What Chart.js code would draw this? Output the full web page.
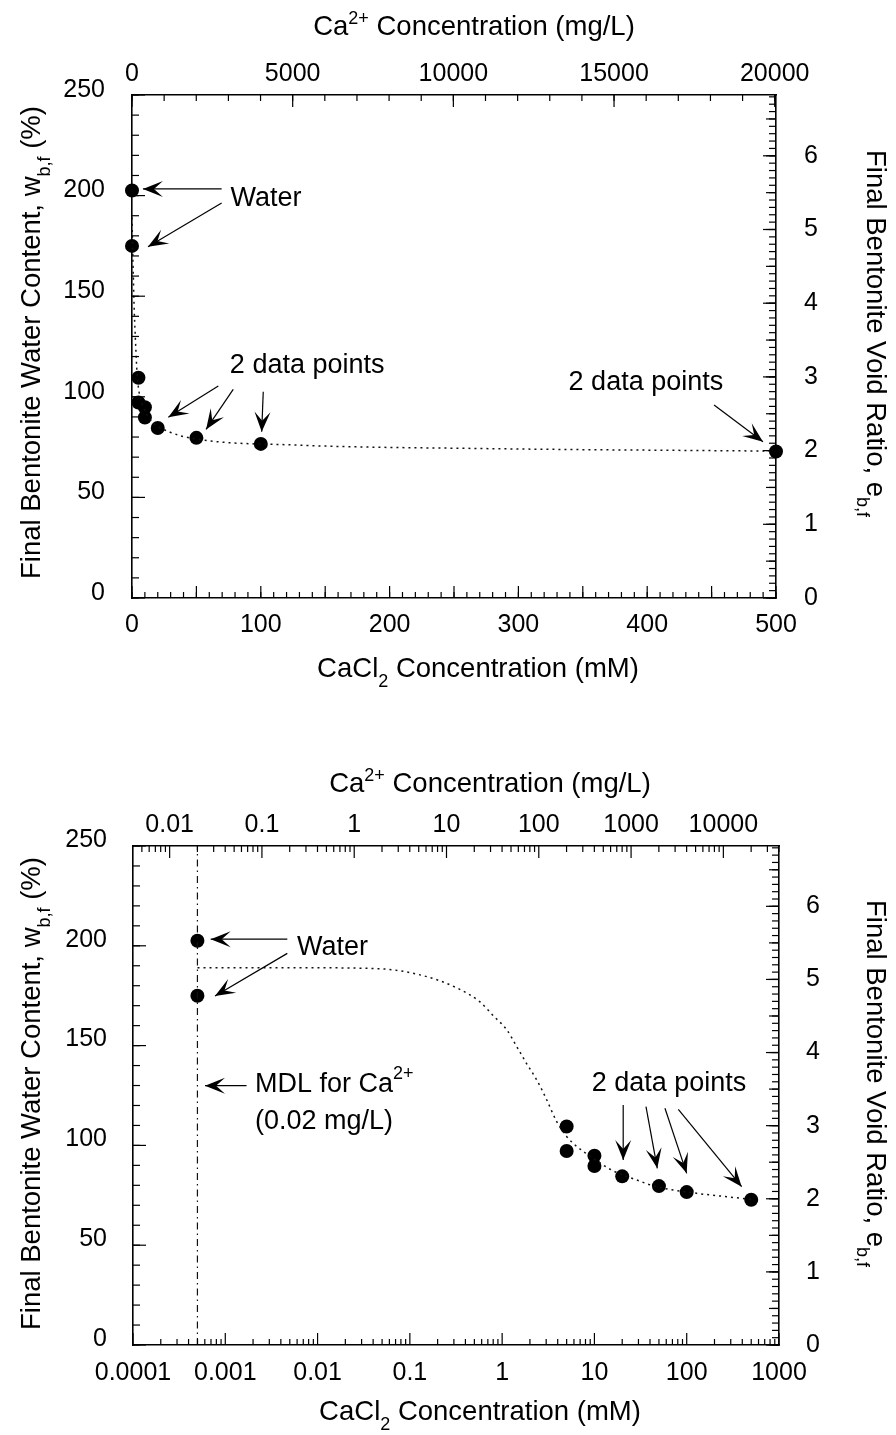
<!DOCTYPE html>
<html>
<head>
<meta charset="utf-8">
<script src="https://cdn.jsdelivr.net/npm/chart.js@4.4.0/dist/chart.umd.min.js"></script>
<style>
body { margin: 0; background: #fff; }
canvas { display: block; }
</style>
</head>
<body>
<canvas id="linChart" width="896" height="717"></canvas>
<canvas id="logChart" width="896" height="718"></canvas>
<script>
// measured points: final water content (%) vs CaCl2 concentration (mM)
let water_w = [202.5, 175];
let salt_conc = [5, 5, 10, 10, 20, 50, 100, 500];
let salt_w = [109.5, 97.2, 94.8, 89.7, 84.5, 79.6, 76.6, 72.8];

// fitted curve
let fit_conc = [0.0005, 0.0065, 0.047, 0.14, 0.32, 0.57, 0.8, 1.12, 1.44, 1.84, 2.36, 3.03, 3.89, 5, 5.9, 9.7, 15.3, 28.6, 47, 128, 270, 500];
let fit_w = [189, 189, 188.5, 185, 179, 172, 165, 158, 149.5, 141, 133, 123, 112, 104.5, 101, 93.5, 87.7, 82.7, 79.3, 76, 74.3, 73];

let ca_mg_per_mmol = 40.08;
let mdl_conc = 0.02 / ca_mg_per_mmol;   // MDL 0.02 mg/L, in mM
let gs = 2.73;                          // e = w * Gs / 100

let lin_x_ticks = [0, 100, 200, 300, 400, 500];
let lin_top_ticks = [0, 5000, 10000, 15000, 20000];
let w_ticks = [0, 50, 100, 150, 200, 250];
let e_ticks = [0, 1, 2, 3, 4, 5, 6];
let log_x_ticks = [0.0001, 0.001, 0.01, 0.1, 1, 10, 100, 1000];
let log_top_ticks = [0.01, 0.1, 1, 10, 100, 1000, 10000];

const FONT = "'Liberation Sans', Arial, sans-serif";

function steps(a, b, s) {
  let out = [];
  for (let i = 0; a + i * s <= b + 1e-9; i++) out.push(a + i * s);
  return out;
}
function logVals(min, max, digits) {
  let out = [];
  for (let e = Math.floor(Math.log10(min)); e <= Math.ceil(Math.log10(max)); e++) {
    digits.forEach(d => {
      let v = d * Math.pow(10, e);
      if (v >= min * 0.999 && v <= max * 1.001) out.push(v);
    });
  }
  return out;
}

function axisOpts(position, type, min, max, tickVals, fitSize, pad, labelOffset) {
  return {
    type: type, position: position, min: min, max: max,
    grid: { display: false },
    border: { display: true, color: '#000', width: 1.6 },
    afterBuildTicks: s => { s.ticks = tickVals.map(v => ({ value: v })); },
    afterFit: s => { if (s.isHorizontal()) s.height = fitSize; else s.width = fitSize; },
    ticks: {
      color: '#000', font: { family: FONT, size: 25 }, padding: pad,
      labelOffset: labelOffset || 0, maxRotation: 0, autoSkip: false,
      callback: v => String(v)
    }
  };
}

function fontFor(mode, size) {
  return (mode ? Math.round(size * 0.65) : size) + 'px ' + FONT;
}
function drawRich(ctx, parts, x, y, size, align) {
  let w = 0;
  parts.forEach(p => { ctx.font = fontFor(p[1], size); w += ctx.measureText(p[0]).width; });
  let cx = align === 'center' ? x - w / 2 : x;
  parts.forEach(p => {
    ctx.font = fontFor(p[1], size);
    let dy = p[1] === 'sub' ? size * 0.35 : p[1] === 'sup' ? -size * 0.4 : 0;
    ctx.fillText(p[0], cx, y + dy);
    cx += ctx.measureText(p[0]).width;
  });
}
function arrow(ctx, x1, y1, x2, y2) {
  ctx.beginPath(); ctx.moveTo(x1, y1); ctx.lineTo(x2, y2); ctx.stroke();
  let a = Math.atan2(y2 - y1, x2 - x1), L = 20, W = 8;
  ctx.save();
  ctx.translate(x2, y2); ctx.rotate(a);
  ctx.beginPath();
  ctx.moveTo(0, 0); ctx.lineTo(-L, -W); ctx.lineTo(-L * 0.55, 0); ctx.lineTo(-L, W);
  ctx.closePath(); ctx.fill();
  ctx.restore();
}

const decor = {
  id: 'decor',
  afterDraw(chart, args, o) {
    let ctx = chart.ctx, ca = chart.chartArea;
    ctx.save();
    ctx.strokeStyle = '#000'; ctx.fillStyle = '#000'; ctx.lineWidth = 1.2;
    // inward tick marks
    o.ticks.forEach(t => {
      let s = chart.scales[t.scale];
      t.vals.forEach(v => {
        if (v < s.min - 1e-9 || v > s.max * 1.0001) return;
        let p = s.getPixelForValue(v);
        ctx.beginPath();
        if (s.position === 'left') { ctx.moveTo(ca.left, p); ctx.lineTo(ca.left + t.len, p); }
        if (s.position === 'right') { ctx.moveTo(ca.right, p); ctx.lineTo(ca.right - t.len, p); }
        if (s.position === 'bottom') { ctx.moveTo(p, ca.bottom); ctx.lineTo(p, ca.bottom - t.len); }
        if (s.position === 'top') { ctx.moveTo(p, ca.top); ctx.lineTo(p, ca.top + t.len); }
        ctx.stroke();
      });
    });
    // annotations
    let xs = chart.scales.x, ys = chart.scales.y;
    ctx.lineWidth = 1.2;
    o.arrows.forEach(a => {
      arrow(ctx, xs.getPixelForValue(a[0]), ys.getPixelForValue(a[1]),
                 xs.getPixelForValue(a[2]), ys.getPixelForValue(a[3]));
    });
    ctx.textBaseline = 'middle'; ctx.textAlign = 'left';
    o.notes.forEach(n => {
      drawRich(ctx, n.parts, xs.getPixelForValue(n.x), ys.getPixelForValue(n.y), 27, n.align);
    });
    // axis titles
    ctx.textBaseline = 'alphabetic';
    o.titles.forEach(t => {
      ctx.save();
      ctx.translate(t.x, t.y); ctx.rotate(t.rot);
      drawRich(ctx, t.parts, 0, 0, 27.5, t.align);
      ctx.restore();
    });
    ctx.restore();
  }
};

function points(xs, ys) { return xs.map((x, i) => ({ x: x, y: ys[i] })); }

let fitStyle = {
  showLine: true, pointRadius: 0, borderColor: '#111', borderWidth: 1.5,
  borderDash: [2, 4], cubicInterpolationMode: 'monotone', clip: false
};
let dotStyle = { pointRadius: 7, pointBackgroundColor: '#000', pointBorderWidth: 0, clip: false };

let top_title = [['Ca', ''], ['2+', 'sup'], [' Concentration (mg/L)', '']];
let bot_title = [['CaCl', ''], ['2', 'sub'], [' Concentration (mM)', '']];
let left_title = [['Final Bentonite Water Content, w', ''], ['b,f', 'sub'], [' (%)', '']];
let right_title = [['Final Bentonite Void Ratio, e', ''], ['b,f', 'sub']];

// ---------- linear chart ----------
new Chart('linChart', {
  type: 'scatter',
  data: {
    datasets: [
      Object.assign({ data: points(fit_conc, fit_w) }, fitStyle),
      Object.assign({ data: points([0, 0].concat(salt_conc), water_w.concat(salt_w)) }, dotStyle)
    ]
  },
  options: {
    responsive: false, animation: false,
    layout: { padding: 0 },
    plugins: {
      legend: { display: false }, tooltip: { enabled: false },
      decor: {
        ticks: [
          { scale: 'y', vals: steps(0, 250, 10), len: 7 },
          { scale: 'y', vals: steps(0, 250, 50), len: 13 },
          { scale: 'y2', vals: steps(0, 6.8, 0.1), len: 7 },
          { scale: 'y2', vals: steps(0, 6.5, 0.5), len: 10 },
          { scale: 'y2', vals: steps(0, 6, 1), len: 13 },
          { scale: 'x', vals: steps(0, 500, 10), len: 6 },
          { scale: 'x', vals: steps(0, 500, 50), len: 12 },
          { scale: 'x2', vals: steps(0, 20000, 1000), len: 6 },
          { scale: 'x2', vals: steps(0, 20000, 5000), len: 12 }
        ],
        arrows: [
          [69.6, 203.3, 8.5, 203.3], [69.6, 196.3, 12.4, 174.6],
          [67, 105.4, 28.2, 89.8], [78.6, 103.7, 57.5, 83.8], [101.9, 102.5, 100.7, 82.6],
          [451.9, 95.9, 489.9, 77.7]
        ],
        notes: [
          { x: 104, y: 198.3, align: 'center', parts: [['Water', '']] },
          { x: 136, y: 115.5, align: 'center', parts: [['2 data points', '']] },
          { x: 399, y: 106.9, align: 'center', parts: [['2 data points', '']] }
        ],
        titles: [
          { parts: top_title, x: 474, y: 35, rot: 0, align: 'center' },
          { parts: bot_title, x: 478, y: 677, rot: 0, align: 'center' },
          { parts: left_title, x: 40, y: 579, rot: -Math.PI / 2, align: 'left' },
          { parts: right_title, x: 867, y: 150, rot: Math.PI / 2, align: 'left' }
        ]
      }
    },
    scales: {
      x: axisOpts('bottom', 'linear', 0, 500, lin_x_ticks, 119, 4),
      x2: axisOpts('top', 'linear', 0, 500 * ca_mg_per_mmol, lin_top_ticks, 95, -2),
      y: axisOpts('left', 'linear', 0, 250, w_ticks, 132, 19, -5),
      y2: axisOpts('right', 'linear', 0, 250 * gs / 100, e_ticks, 120, 20)
    }
  },
  plugins: [decor]
});

// ---------- log chart ----------
let mdl_line = points([mdl_conc, mdl_conc], [0, 250]);

new Chart('logChart', {
  type: 'scatter',
  data: {
    datasets: [
      { data: mdl_line, showLine: true, pointRadius: 0, borderColor: '#111', borderWidth: 1.2, borderDash: [7, 4, 1.5, 4] },
      Object.assign({ data: points(fit_conc, fit_w) }, fitStyle),
      Object.assign({ data: points([mdl_conc, mdl_conc].concat(salt_conc), water_w.concat(salt_w)) }, dotStyle)
    ]
  },
  options: {
    responsive: false, animation: false,
    layout: { padding: 0 },
    plugins: {
      legend: { display: false }, tooltip: { enabled: false },
      decor: {
        ticks: [
          { scale: 'y', vals: steps(0, 250, 10), len: 7 },
          { scale: 'y', vals: steps(0, 250, 50), len: 13 },
          { scale: 'y2', vals: steps(0, 6.8, 0.1), len: 7 },
          { scale: 'y2', vals: steps(0, 6.5, 0.5), len: 10 },
          { scale: 'y2', vals: steps(0, 6, 1), len: 13 },
          { scale: 'x', vals: logVals(0.0001, 1000, [2, 3, 4, 5, 6, 7, 8, 9]), len: 6 },
          { scale: 'x', vals: logVals(0.0001, 1000, [1]), len: 12 },
          { scale: 'x2', vals: logVals(0.0001 * ca_mg_per_mmol, 1000 * ca_mg_per_mmol, [2, 3, 4, 5, 6, 7, 8, 9]), len: 6 },
          { scale: 'x2', vals: logVals(0.0001 * ca_mg_per_mmol, 1000 * ca_mg_per_mmol, [1]), len: 12 }
        ],
        arrows: [
          [0.0047, 203.3, 6.95e-4, 203.3], [0.0047, 196.2, 7.73e-4, 174.8],
          [0.0017, 129.9, 6.03e-4, 129.9],
          [20.5, 120.2, 20.5, 92.7], [36.2, 119.4, 48, 88.5], [58.1, 118.6, 99.9, 86], [81.1, 118.1, 394, 79.3]
        ],
        notes: [
          { x: 0.01453, y: 198.9, align: 'center', parts: [['Water', '']] },
          { x: 0.0021, y: 130.3, align: 'left', parts: [['MDL for Ca', ''], ['2+', 'sup']] },
          { x: 0.0021, y: 111.7, align: 'left', parts: [['(0.02 mg/L)', '']] },
          { x: 64.3, y: 130.8, align: 'center', parts: [['2 data points', '']] }
        ],
        titles: [
          { parts: top_title, x: 490, y: 75, rot: 0, align: 'center' },
          { parts: bot_title, x: 480, y: 703, rot: 0, align: 'center' },
          { parts: left_title, x: 40, y: 613, rot: -Math.PI / 2, align: 'left' },
          { parts: right_title, x: 867, y: 183, rot: Math.PI / 2, align: 'left' }
        ]
      }
    },
    scales: {
      x: axisOpts('bottom', 'logarithmic', 0.0001, 1000, log_x_ticks, 90, 5),
      x2: axisOpts('top', 'logarithmic', 0.0001 * ca_mg_per_mmol, 1000 * ca_mg_per_mmol, log_top_ticks, 129, -2),
      y: axisOpts('left', 'linear', 0, 250, w_ticks, 133, 18, -6),
      y2: axisOpts('right', 'linear', 0, 250 * gs / 100, e_ticks, 117, 19)
    }
  },
  plugins: [decor]
});
</script>
</body>
</html>
